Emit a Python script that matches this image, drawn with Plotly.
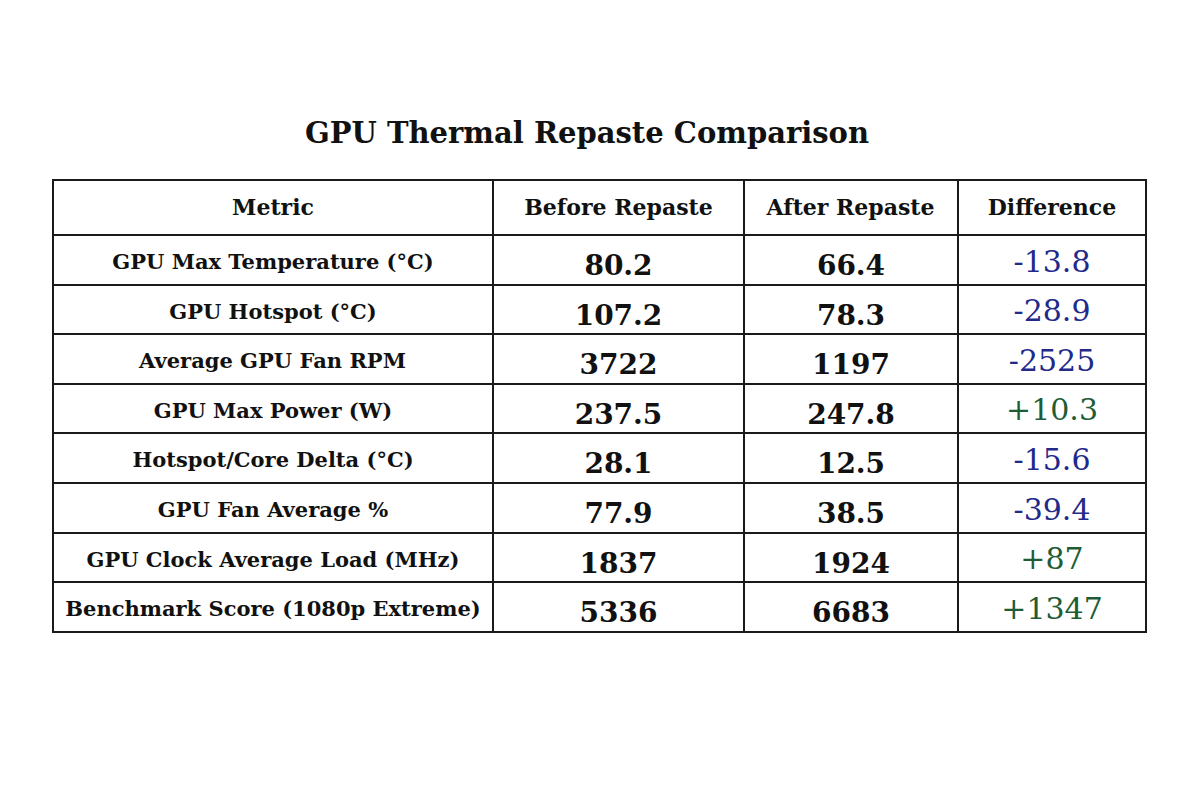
import plotly.graph_objects as go

# Dados da tabela
metricas = [
    "GPU Max Temperature (°C)",
    "GPU Hotspot (°C)",
    "Average GPU Fan RPM",
    "GPU Max Power (W)",
    "Hotspot/Core Delta (°C)",
    "GPU Fan Average %",
    "GPU Clock Average Load (MHz)",
    "Benchmark Score (1080p Extreme)",
]
antes = ["80.2", "107.2", "3722", "237.5", "28.1", "77.9", "1837", "5336"]
depois = ["66.4", "78.3", "1197", "247.8", "12.5", "38.5", "1924", "6683"]
diferenca = ["-13.8", "-28.9", "-2525", "+10.3", "-15.6", "-39.4", "+87", "+1347"]
cabecalho = ["Metric", "Before Repaste", "After Repaste", "Difference"]

fonte = "DejaVu Serif"
azul = "#1f2a8a"
verde = "#1e5c36"
cor_dif = [verde if d.startswith("+") else azul for d in diferenca]
n = len(metricas)
larguras = [440, 251, 214, 188]
x_tab = [45 / 1200, 1138 / 1200]   # body da página tem margem de 8px
topo = 172                           # topo da tabela em px
desloc = 6                           # texto desce 6px (tabela não tem valign)

fig = go.Figure()

# 1) só a grade (linhas e fundo), sem texto
fig.add_trace(go.Table(
    domain={"x": x_tab, "y": [0.05, 1 - topo / 800]},
    columnwidth=larguras,
    header=dict(values=[""] * 4, height=55, fill_color="white",
                line=dict(color="#1a1a1a", width=2)),
    cells=dict(values=[[""] * n] * 4, height=49.6, fill_color="white",
               line=dict(color="#1a1a1a", width=2)),
    hoverinfo="skip",
))

# 2) o texto, numa tabela transparente um pouco mais abaixo
fig.add_trace(go.Table(
    domain={"x": x_tab, "y": [0.05, 1 - (topo + desloc) / 800]},
    columnwidth=larguras,
    header=dict(
        values=["<b>%s</b>" % h for h in cabecalho],
        align="center",
        height=55,
        fill_color="rgba(0,0,0,0)",
        line=dict(color="rgba(0,0,0,0)", width=0),
        font=dict(family=fonte, size=22, color="#111111"),
    ),
    cells=dict(
        values=[["<b>%s</b>" % m for m in metricas],
                ["<b>%s</b>" % v for v in antes],
                ["<b>%s</b>" % v for v in depois],
                diferenca],
        align="center",
        height=49.6,
        fill_color="rgba(0,0,0,0)",
        line=dict(color="rgba(0,0,0,0)", width=0),
        font=dict(family=fonte,
                  size=[21, 28, 28, 30],
                  color=[["#111111"] * n, ["#111111"] * n, ["#111111"] * n, cor_dif]),
    ),
))

fig.update_layout(
    title=dict(text="<b>GPU Thermal Repaste Comparison</b>",
               x=579 / 1200, xanchor="center",
               y=1 - 125 / 800, yanchor="middle",
               font=dict(family=fonte, size=29, color="#111111")),
    width=1200, height=800,
    margin=dict(l=0, r=0, t=0, b=0),
    paper_bgcolor="white",
    plot_bgcolor="white",
)

fig.write_html("out.html")
